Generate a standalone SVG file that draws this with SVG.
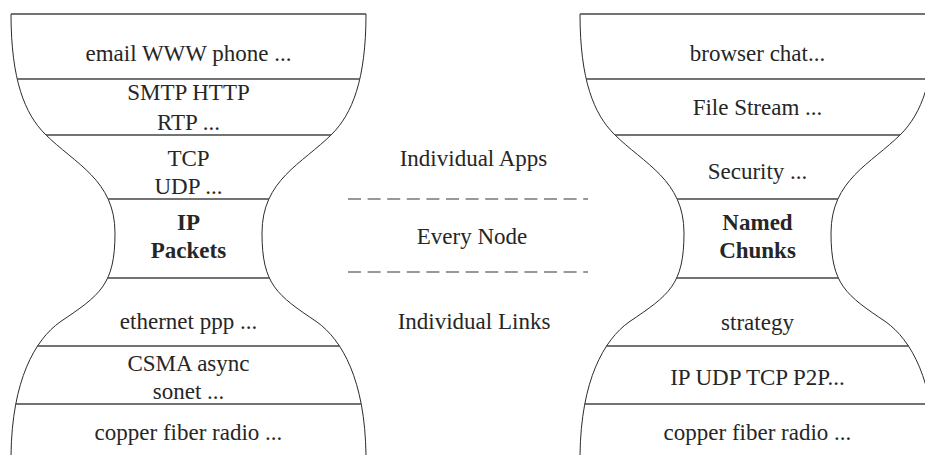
<svg xmlns="http://www.w3.org/2000/svg" xmlns:xlink="http://www.w3.org/1999/xlink" width="925" height="455" viewBox="0 0 925 455">
  <style>
    .edge { fill: none; stroke: #2b2b2b; stroke-width: 1; }
    .rule { fill: none; stroke: #454545; stroke-width: 1.3; }
    .dash { fill: none; stroke: #333333; stroke-width: 1.1; stroke-dasharray: 13 6.6; }
    text { font-family: "Liberation Serif", "Times New Roman", serif; font-size: 23px; fill: #262626; text-anchor: middle; }
    .bold { font-weight: bold; }
  </style>
  <defs>
    <!-- hourglass outline with layer rules; drawn at x 11..366, reused for both stacks -->
    <g id="hourglass-frame">
      <path class="edge" d="M11,14 C11,80 25,114 45,134 C75,164 115,180 115,233 C115,285 100,295 60,322 C35,340 12,380 11,455"/>
      <path class="edge" d="M366,14 C366,80 352,114 332,134 C302,164 262,180 262,233 C262,285 277,295 317,322 C342,340 365,380 366,455"/>
      <line class="rule" x1="11" y1="14" x2="366" y2="14"/>
      <line class="rule" x1="17.2" y1="79" x2="359.8" y2="79"/>
      <line class="rule" x1="46" y1="135" x2="331" y2="135"/>
      <line class="rule" x1="108" y1="199" x2="269" y2="199"/>
      <line class="rule" x1="107.5" y1="278" x2="269.5" y2="278"/>
      <line class="rule" x1="37.2" y1="346" x2="339.8" y2="346"/>
      <line class="rule" x1="15.9" y1="404" x2="361.1" y2="404"/>
    </g>
  </defs>

  <!-- IP stack -->
  <g id="ip-stack">
    <use href="#hourglass-frame" xlink:href="#hourglass-frame"/>
    <g id="ip-apps"><text x="188.5" y="61">email WWW phone ...</text></g>
    <g id="ip-app-protocols"><text x="188.5" y="100">SMTP HTTP</text><text x="188.5" y="130">RTP ...</text></g>
    <g id="ip-transport"><text x="188.5" y="166">TCP</text><text x="188.5" y="193.5">UDP ...</text></g>
    <g id="ip-waist"><text class="bold" x="188.5" y="230">IP</text><text class="bold" x="188.5" y="258">Packets</text></g>
    <g id="ip-link"><text x="188.5" y="329">ethernet ppp ...</text></g>
    <g id="ip-mac"><text x="188.5" y="371">CSMA async</text><text x="188.5" y="399">sonet ...</text></g>
    <g id="ip-physical"><text x="188.5" y="440">copper fiber radio ...</text></g>
  </g>

  <!-- NDN stack -->
  <g id="ndn-stack">
    <use href="#hourglass-frame" xlink:href="#hourglass-frame" transform="translate(569,0)"/>
    <g id="ndn-apps"><text x="757.5" y="61">browser chat...</text></g>
    <g id="ndn-file"><text x="757.5" y="115">File Stream ...</text></g>
    <g id="ndn-security"><text x="757.5" y="179">Security ...</text></g>
    <g id="ndn-waist"><text class="bold" x="757.5" y="230">Named</text><text class="bold" x="757.5" y="258">Chunks</text></g>
    <g id="ndn-strategy"><text x="757.5" y="330">strategy</text></g>
    <g id="ndn-transport"><text x="757.5" y="385">IP UDP TCP P2P...</text></g>
    <g id="ndn-physical"><text x="757.5" y="439.5">copper fiber radio ...</text></g>
  </g>

  <!-- scope labels between the stacks -->
  <g id="scope-labels">
    <text x="473.5" y="166">Individual Apps</text>
    <text x="472" y="244">Every Node</text>
    <text x="474" y="329">Individual Links</text>
  </g>

  <!-- dashed separators -->
  <g id="connectors">
    <line class="dash" x1="348" y1="199" x2="588" y2="199"/>
    <line class="dash" x1="348" y1="272" x2="588" y2="272"/>
  </g>
</svg>
